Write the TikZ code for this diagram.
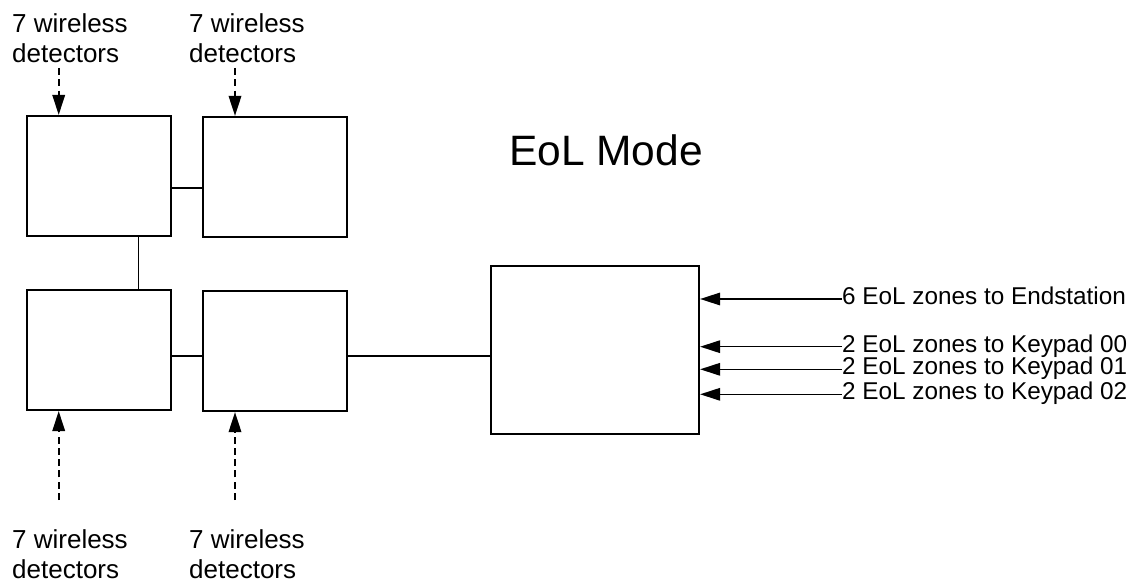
\documentclass[tikz,border=0pt]{standalone}
\usepackage{fontspec}
\setmainfont{Liberation Sans}
\usetikzlibrary{arrows.meta}
\begin{document}
\begin{tikzpicture}[x=1pt,y=-1pt,
  box/.style={draw,line width=2.2pt,inner sep=0pt,minimum width=144pt,minimum height=120pt},
  wire/.style={line width=1.6pt},
  tip/.style={-{Triangle[length=20pt,width=12.5pt]}},
  dasharrow/.style={wire,line width=1.8pt,tip,dash pattern=on 7pt off 4.3pt},
  lab/.style={font=\fontsize{26}{30}\selectfont,align=left,inner sep=0pt,anchor=north west},
  zone/.style={font=\fontsize{24.3}{28}\selectfont,inner sep=0pt,anchor=base west}]
\useasboundingbox (0,0) rectangle (1138,585);
% boxes
\node[box] (A) at (98.85,176) {};
\node[box] (B) at (275,177) {};
\node[box] (C) at (98.85,350) {};
\node[box] (D) at (275,351) {};
\node[box,minimum width=208.3pt,minimum height=168pt] (E) at (594.85,349.7) {};
% connectors between boxes
\draw[wire] (A.east |- 0,188) -- (B.west |- 0,188);
\draw[wire] (A.south -| 138.3,0) -- (C.north -| 138.3,0);
\draw[wire] (C.east |- 0,356) -- (D.west |- 0,356);
\draw[wire] (D.east |- 0,356) -- (E.west |- 0,356);
% title
\node[font=\fontsize{42.5}{50}\selectfont,inner sep=0pt,anchor=base west] (title) at (509,166) {EoL Mode};
% wireless detector labels
\node[lab] (t1) at (12,13) {7 wireless\\detectors};
\node[lab] (t2) at (189,13) {7 wireless\\detectors};
\node[lab] (t3) at (12,529.3) {7 wireless\\detectors};
\node[lab] (t4) at (189,529.3) {7 wireless\\detectors};
\coordinate (s1) at (58.7,68);
\coordinate (s2) at (235,68);
\coordinate (s3) at (58.7,500);
\coordinate (s4) at (235,500);
\draw[dasharrow] (s1) -- (s1 |- A.north);
\draw[dasharrow] (s2) -- (s2 |- B.north);
\draw[dasharrow] (s3) -- (s3 |- C.south);
\draw[dasharrow] (s4) -- (s4 |- D.south);
% EoL zone inputs
\node[zone] (z1) at (842,304.5) {6 EoL zones to Endstation};
\node[zone] (z2) at (842,352.2) {2 EoL zones to Keypad 00};
\node[zone] (z3) at (842,374.8) {2 EoL zones to Keypad 01};
\node[zone] (z4) at (842,399.8) {2 EoL zones to Keypad 02};
\foreach \z in {z1,z2,z3,z4}{
  \coordinate (\z l) at ([yshift=5.5pt]\z.base west);
  \draw[wire,tip] (\z l) -- (E.east |- \z l);
}
\end{tikzpicture}
\end{document}
